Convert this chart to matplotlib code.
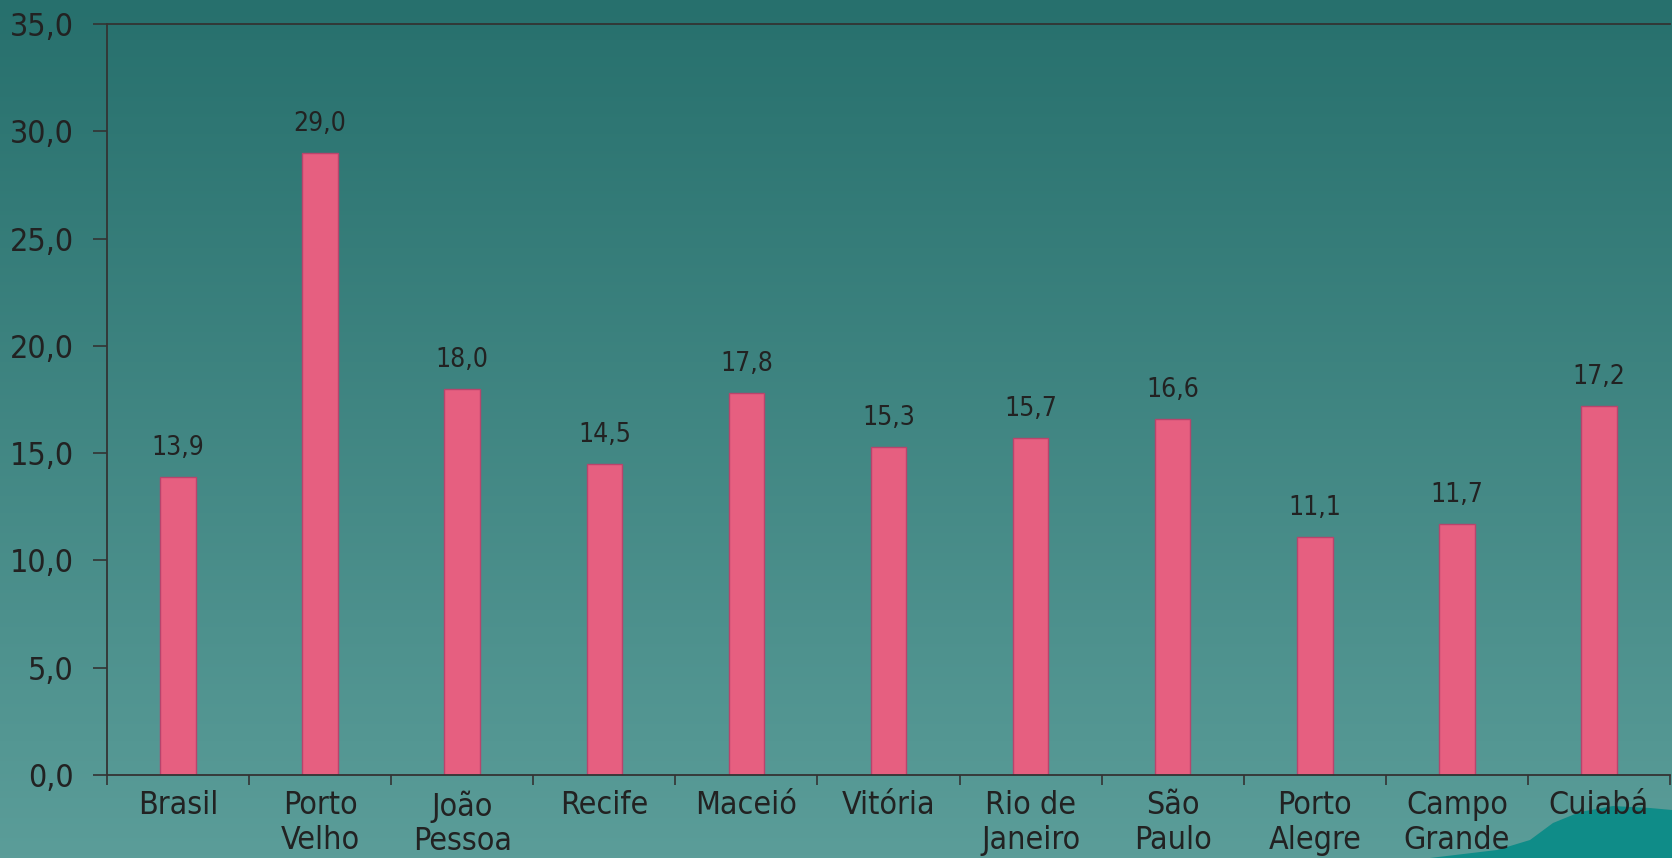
import numpy as np
import matplotlib.pyplot as plt
from matplotlib.colors import LinearSegmentedColormap
from matplotlib.patches import Polygon

cidades = ["Brasil", "Porto\nVelho", "João\nPessoa", "Recife", "Maceió", "Vitória",
           "Rio de\nJaneiro", "São\nPaulo", "Porto\nAlegre", "Campo\nGrande", "Cuiabá"]
valores = [13.9, 29.0, 18.0, 14.5, 17.8, 15.3, 15.7, 16.6, 11.1, 11.7, 17.2]
yticks = [0, 5, 10, 15, 20, 25, 30, 35]

txt = "#222222"
plt.rcParams["font.family"] = "DejaVu Sans"
plt.rcParams["font.stretch"] = "condensed"

W, H = 1672, 858
fig = plt.figure(figsize=(W / 100, H / 100), dpi=100)

# gradient background
bg = fig.add_axes([0, 0, 1, 1], zorder=0)
grad = LinearSegmentedColormap.from_list("bg", ["#5b9d99", "#27706d"])
bg.imshow(np.linspace(0, 1, 256).reshape(-1, 1), aspect="auto", cmap=grad,
          origin="lower", extent=[0, 1, 0, 1])
# decorative shape bottom right
blob = [(1430, 858), (1497, 850), (1530, 840), (1553, 823), (1580, 812),
        (1613, 806), (1650, 808), (1672, 810), (1672, 858)]
bg.add_patch(Polygon([(px / W, 1 - py / H) for px, py in blob], closed=True,
                     facecolor="#0f8c88", edgecolor="none"))
bg.set_xlim(0, 1)
bg.set_ylim(0, 1)
bg.axis("off")

ax = fig.add_axes([107 / W, 1 - 775 / H, (1670 - 107) / W, (775 - 24) / H], zorder=1)
ax.patch.set_alpha(0)

x = np.arange(len(cidades))
ax.bar(x, valores, width=0.25, color="#e65f80", edgecolor="#b8446c", linewidth=1, zorder=2)
for xi, v in zip(x, valores):
    ax.text(xi, v + 0.75, f"{v:.1f}".replace(".", ","), ha="center", va="bottom",
            fontsize=19, color=txt)

ax.set_xlim(-0.5, len(cidades) - 0.5)
ax.set_ylim(0, 35)
ax.set_yticks(yticks)
ax.set_yticklabels([f"{t:.1f}".replace(".", ",") for t in yticks], fontsize=23, color=txt)
ax.set_xticks(x)
ax.set_xticklabels(cidades, fontsize=23, color=txt, linespacing=1.15)
ax.set_xticks(np.arange(len(cidades) + 1) - 0.5, minor=True)
ax.tick_params(axis="x", which="major", length=0, pad=11)
ax.tick_params(axis="x", which="minor", length=7, width=1.2, color="#333333", direction="out")
ax.tick_params(axis="y", length=10, width=1.2, color="#333333", pad=14)

for s in ["left", "bottom", "top"]:
    ax.spines[s].set_color("#333333")
    ax.spines[s].set_linewidth(1.3)
ax.spines["right"].set_visible(False)

fig.savefig("out.png", dpi=100)
